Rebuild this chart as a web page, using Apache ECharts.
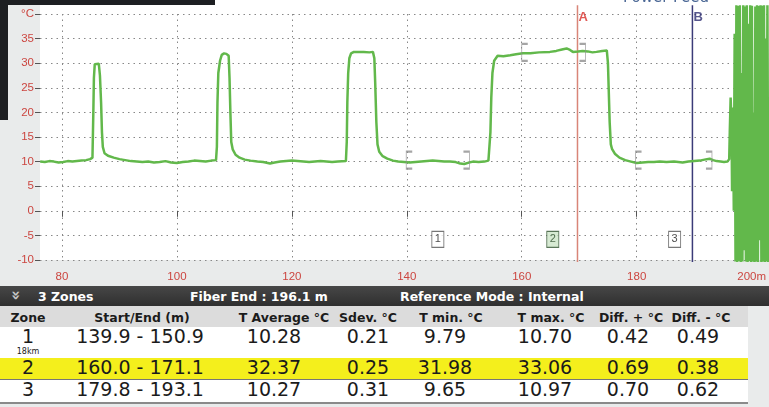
<!DOCTYPE html>
<html>
<head>
<meta charset="utf-8">
<script src="https://cdn.jsdelivr.net/npm/echarts@6/dist/echarts.min.js"></script>
<style>
body{margin:0;width:769px;height:407px;overflow:hidden;background:#e9ebeb;position:relative;font-family:"DejaVu Sans",sans-serif;}
#chart{position:absolute;left:0;top:0;width:769px;height:286px;}
.abs{position:absolute;}
.bar{left:0;top:286px;width:769px;height:20px;background:linear-gradient(#474747,#2f2f2f);color:#fff;font-weight:bold;font-size:12.5px;}
.bar span{position:absolute;top:3px;white-space:nowrap;}
.hrow{left:0;top:306px;width:748px;height:21px;background:#dcdcdc;}
.cell{position:absolute;white-space:nowrap;transform:translateX(-50%);color:#1b1b1b;}
.hd{font-weight:bold;font-size:12.5px;top:310px;}
.val{font-size:19px;}
</style>
</head>
<body>
<div id="chart"></div>
<div class="abs" style="left:623px;top:-12px;font-size:15px;color:#4a6795;">Power Feed</div>
<div class="abs bar">
  <span style="left:11px;top:0px;color:#c8c8c8;transform:rotate(90deg);font-size:16px;">»</span>
  <span style="left:38px;">3 Zones</span>
  <span style="left:190px;">Fiber End : 196.1 m</span>
  <span style="left:400px;">Reference Mode : Internal</span>
</div>
<div class="abs hrow"></div>
<div id="table"></div>
<script>
// 温度曲线 距离(m) / 温度(°C)
var dist = [76.2,77.0,77.8,78.6,79.4,80.2,81.0,81.8,82.6,83.4,84.2,84.9,85.3,
  85.45,85.55,85.7,86.0,86.4,86.6,86.8,86.95,87.1,87.4,88.0,89.0,90.0,91.0,
  92.0,93.0,94.0,95.0,96.0,97.0,98.0,99.0,100.0,101.0,102.0,103.0,104.0,105.0,106.0,106.8,
  106.95,107.05,107.2,107.5,107.8,108.2,108.6,109.0,109.15,109.3,109.45,109.7,110.2,110.9,111.8,112.8,
  114.0,115.0,116.2,117.0,118.0,119.0,120.0,121.0,122.0,123.0,124.0,125.0,126.0,127.0,128.0,129.4,
  129.55,129.65,129.8,130.0,130.3,130.8,131.5,132.5,133.5,134.1,134.35,134.5,134.7,134.9,135.2,135.8,136.6,137.6,
  138.5,139.5,140.5,141.5,142.5,143.5,144.5,145.5,146.5,147.5,148.5,149.3,150.0,150.8,151.5,152.5,153.5,154.2,
  154.4,154.55,154.7,154.9,155.2,155.8,156.8,158.0,159.0,160.2,161.5,163.0,164.9,166.0,167.0,167.8,168.4,168.9,
  169.8,170.6,171.5,172.3,173.0,174.0,174.8,175.0,175.15,175.3,175.5,175.7,176.2,177.0,178.0,179.0,
  180.0,181.0,182.0,183.0,184.0,185.2,186.5,188.0,189.0,190.0,191.0,191.8,192.7,193.3,193.9,194.6,195.2,195.8,
  196.1,196.2,196.35,196.5,
  196.6,196.75,196.9,197.05,197.2,197.35,197.5,197.65,197.8,197.95,198.1,198.25,198.4,198.55,198.7,198.85,
  199.0,199.15,199.3,199.45,199.6,199.75,199.9,200.05,200.2,200.35,200.5,200.65,200.8,200.95,201.1,201.25,
  201.4,201.55,201.7,201.85,202.0,202.15,202.3,202.45,202.6,202.75,202.9];
var temp = [10.0,9.9,10.1,10.0,9.8,9.9,10.1,10.0,10.1,10.2,10.3,10.5,10.8,
  20,27,29.8,30.2,29.9,27.5,22,16,13,11.7,11.2,10.8,10.5,10.3,
  10.1,10.0,9.9,10.0,9.8,9.9,10.1,9.8,9.7,9.9,10.0,10.2,10.1,10.0,10.2,10.3,
  13,22,28,30.5,31.7,32.0,31.9,31.5,27,20,14,12.5,11.4,10.8,10.4,10.2,
  10.0,9.9,9.6,9.8,10.0,10.1,10.2,10.1,10.0,9.9,10.0,10.1,10.0,9.9,10.0,10.1,
  14,22,28,31,32.0,32.3,32.3,32.3,32.2,32.3,31,26,18,13.5,12,11.1,10.6,10.2,
  10.0,9.9,9.8,9.9,10.0,10.1,10.2,10.1,10.0,10.0,9.9,9.6,9.5,9.8,10.0,9.9,10.0,10.2,
  10.5,16,23,28,30.5,31.5,31.4,31.6,31.8,32.0,32.0,32.2,32.3,32.5,32.8,33.0,32.7,32.3,
  32.4,32.5,32.4,32.2,32.3,32.5,32.6,30,24,18,13.5,12.6,11.6,10.8,10.3,10.0,
  9.7,9.8,9.9,9.9,10.0,9.9,10.0,9.8,10.0,10.1,10.2,10.4,10.6,10.3,10.1,10.0,9.9,10.0,
  10.5,16,23,18,
  4,21,0,36,-10.3,41.8,-10.4,41.6,-10.2,41.8,-10.4,28,-10.3,41.8,-8,41.5,
  -10.3,41.8,-10.4,38,-10.2,41.8,-10.4,41.7,-10.3,20,-10.4,41.5,-10.3,41.8,-10.4,41.6,
  -6,41.8,-10.4,41.7,-10.3,41.8,-10.4,35,-10.3,41.8,-10.4,41.6,-10.2];

var xTicks = [80, 100, 120, 140, 160, 180, 200];

// 区域
var zoneNo = ['1', '2', '3'];
var zoneStart = [139.9, 160.0, 179.8];
var zoneEnd = [150.9, 171.1, 193.1];
var zoneLevel = [10.3, 32.2, 10.3];
var zoneLabelX = [145.4, 165.4, 186.6];
var zoneLabelY = -5.8;
var zoneAvg = ['10.28', '32.37', '10.27'];
var zoneSdev = ['0.21', '0.25', '0.31'];
var zoneMin = ['9.79', '31.98', '9.65'];
var zoneMax = ['10.70', '33.06', '10.97'];
var zoneDiffP = ['0.42', '0.69', '0.70'];
var zoneDiffM = ['0.49', '0.38', '0.62'];

// 光标
var cursorName = ['A', 'B'];
var cursorX = [169.7, 189.7];
var cursorColor = ['#d98578', '#3b3b78'];
var cursorTextColor = ['#d8302a', '#2c2c70'];

var linePts = dist.map(function (d, i) { return [d, temp[i]]; });

var bracketData = [];
zoneStart.forEach(function (s, i) {
    bracketData.push({value: [s, zoneLevel[i]], symbol: 'path://M6,0L0,0L0,16L6,16', symbolOffset: [3, 0]});
    bracketData.push({value: [zoneEnd[i], zoneLevel[i]], symbol: 'path://M0,0L6,0L6,16L0,16', symbolOffset: [-3, 0]});
});

var boxData = zoneNo.map(function (n, i) {
    var green = i === 1;
    return {
        name: n, value: [zoneLabelX[i], zoneLabelY],
        itemStyle: {color: green ? '#cde5c8' : '#fff', borderColor: green ? '#355535' : '#555'},
        label: {color: green ? '#2c4c2c' : '#222'}
    };
});

var cursorSeries = cursorX.map(function (x, i) {
    return {
        type: 'line', data: [[x, 41.8], [x, -10.4]], symbol: 'none', clip: false, silent: true, z: 1,
        lineStyle: {color: cursorColor[i], width: 1.5}
    };
});

var myChart = echarts.init(document.getElementById('chart'));
myChart.setOption({
    animation: false,
    graphic: [
        {type: 'rect', shape: {x: 40, y: 5, width: 729, height: 10}, style: {fill: '#fff'}, z: -1},
        {type: 'rect', shape: {x: 215, y: 0, width: 554, height: 5}, style: {fill: '#fff'}, z: -1},
        {type: 'rect', shape: {x: 0, y: 0, width: 215, height: 5}, style: {fill: '#1d1f22'}, z: -1},
        {type: 'rect', shape: {x: 0, y: 0, width: 8, height: 120}, style: {fill: '#1d1f22'}, z: -1}
    ],
    grid: {left: 40, right: 0, top: 14, bottom: 26, show: true, backgroundColor: '#fff', borderWidth: 0},
    xAxis: {
        type: 'value', min: 76.17, max: 202.96,
        axisLine: {show: false},
        axisTick: {show: true, customValues: xTicks, length: 6, lineStyle: {color: '#555'}},
        axisLabel: {customValues: xTicks, color: '#cc4640', fontSize: 11.5, margin: 11,
            formatter: function (v) { return v === 200 ? '200m' : String(v); }},
        splitLine: {show: true, lineStyle: {color: '#888', type: [1.5, 4]}}
    },
    yAxis: {
        type: 'value', min: -10, max: 40, interval: 5,
        axisLine: {show: false},
        axisTick: {show: true, length: 5, lineStyle: {color: '#555'}},
        axisLabel: {color: '#cc4640', fontSize: 11.5, margin: 6,
            formatter: function (v) { return v === 40 ? '°C' : String(v); }},
        splitLine: {show: true, lineStyle: {color: '#888', type: [1.5, 4]}}
    },
    series: cursorSeries.concat([
        {
            type: 'line', data: linePts, symbol: 'none', clip: false, z: 2,
            lineStyle: {color: '#62b84b', width: 2.5}
        },
        {
            type: 'scatter', data: bracketData, symbolSize: [6, 17], silent: true, z: 3,
            itemStyle: {color: 'none', borderColor: '#8f8f8f', borderWidth: 1.3}
        },
        {
            type: 'scatter', data: boxData, symbol: 'rect', symbolSize: [12, 16], silent: true, z: 3,
            itemStyle: {borderWidth: 1},
            label: {show: true, position: 'inside', fontSize: 11, formatter: '{b}'}
        },
        {
            type: 'scatter', clip: false, silent: true, symbolSize: 0, z: 3,
            data: cursorName.map(function (n, i) {
                return {name: n, value: [cursorX[i], 39.4], label: {color: cursorTextColor[i]}};
            }),
            label: {show: true, position: 'right', distance: 1, fontSize: 13, fontWeight: 'bold', formatter: '{b}'}
        }
    ])
});

// 区域表格
var cols = [
    {head: 'Zone', hx: 28, vx: 28},
    {head: 'Start/End (m)', hx: 142, vx: 140},
    {head: 'T Average °C', hx: 284, vx: 274},
    {head: 'Sdev. °C', hx: 368, vx: 368},
    {head: 'T min. °C', hx: 451, vx: 445},
    {head: 'T max. °C', hx: 551, vx: 545},
    {head: 'Diff. + °C', hx: 631, vx: 628},
    {head: 'Diff. - °C', hx: 701, vx: 698}
];
var rowTop = [327, 358, 379];
var rowH = [31, 21, 23];
var rowBg = ['#fff', '#f4ef1c', '#fff'];
var html = '';
rowTop.forEach(function (t, i) {
    html += '<div class="abs" style="left:0;top:' + t + 'px;width:748px;height:' + rowH[i] + 'px;background:' + rowBg[i] + ';"></div>';
});
html += '<div class="abs" style="left:0;top:379px;width:748px;height:1px;background:#777;"></div>';
html += '<div class="abs" style="left:0;top:402px;width:748px;height:2px;background:#8a8a8a;"></div>';
cols.forEach(function (c) {
    html += '<div class="cell hd" style="left:' + c.hx + 'px;">' + c.head + '</div>';
});
var valTop = [325, 356, 378];
zoneNo.forEach(function (n, i) {
    var vals = [n, zoneStart[i].toFixed(1) + ' - ' + zoneEnd[i].toFixed(1), zoneAvg[i], zoneSdev[i],
        zoneMin[i], zoneMax[i], zoneDiffP[i], zoneDiffM[i]];
    vals.forEach(function (v, j) {
        html += '<div class="cell val" style="left:' + cols[j].vx + 'px;top:' + valTop[i] + 'px;">' + v + '</div>';
    });
});
html += '<div class="cell" style="left:28px;top:347px;font-size:8px;">18km</div>';
document.getElementById('table').innerHTML = html;
</script>
</body>
</html>
